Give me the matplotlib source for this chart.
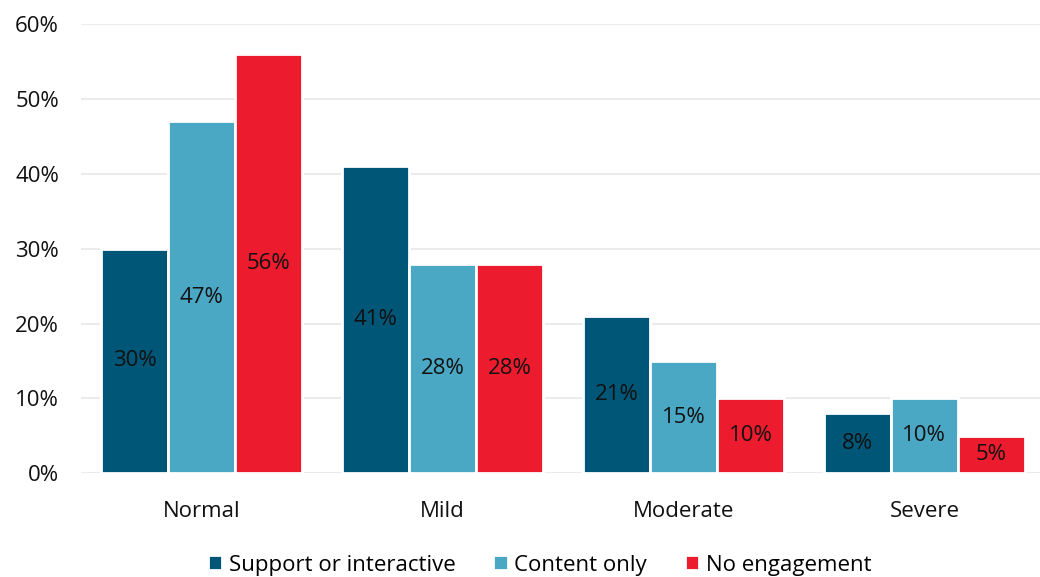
import numpy as np
import matplotlib.pyplot as plt
from matplotlib.ticker import FuncFormatter

plt.rcParams['font.family'] = ['Open Sans', 'DejaVu Sans']

categories = ['Normal', 'Mild', 'Moderate', 'Severe']
series_names = ['Support or interactive', 'Content only', 'No engagement']
support = [30, 41, 21, 8]
content = [47, 28, 15, 10]
no_engage = [56, 28, 10, 5]
colors = ['#005677', '#4BA8C4', '#EC1C2E']

fig = plt.figure(figsize=(10.4, 5.77), dpi=100)
ax = fig.add_axes([0.078, 0.180, 0.922, 0.778])

x = np.arange(len(categories))
step = 0.278
for i, (vals, name, c) in enumerate(zip([support, content, no_engage], series_names, colors)):
    bars = ax.bar(x + (i - 1) * step, vals, width=step, color=c, edgecolor='white',
                  linewidth=2, label=name, zorder=3)
    for b, v in zip(bars, vals):
        ax.text(b.get_x() + b.get_width() / 2, v / 2, f'{v}%', ha='center', va='center',
                fontsize=16, color='#111111', zorder=4)

ax.set_xlim(-0.5, 3.48)
ax.set_ylim(0, 60)
ax.set_yticks(range(0, 61, 10))
ax.yaxis.set_major_formatter(FuncFormatter(lambda v, p: f'{int(v)}%'))
ax.set_xticks(x)
ax.set_xticklabels(categories)
ax.tick_params(axis='both', length=0, labelsize=16, colors='#111111')
ax.tick_params(axis='x', pad=20)
ax.tick_params(axis='y', pad=16)
ax.grid(axis='y', color='#EBEBEB', linewidth=1.5, zorder=0)
for s in ax.spines.values():
    s.set_visible(False)

ax.legend(loc='lower center', bbox_to_anchor=(0.478, -0.248), ncol=3, frameon=False,
          fontsize=16, handlelength=0.65, handleheight=0.65, handletextpad=0.3,
          columnspacing=1.7, borderaxespad=0)

fig.savefig('out.png', dpi=100)
